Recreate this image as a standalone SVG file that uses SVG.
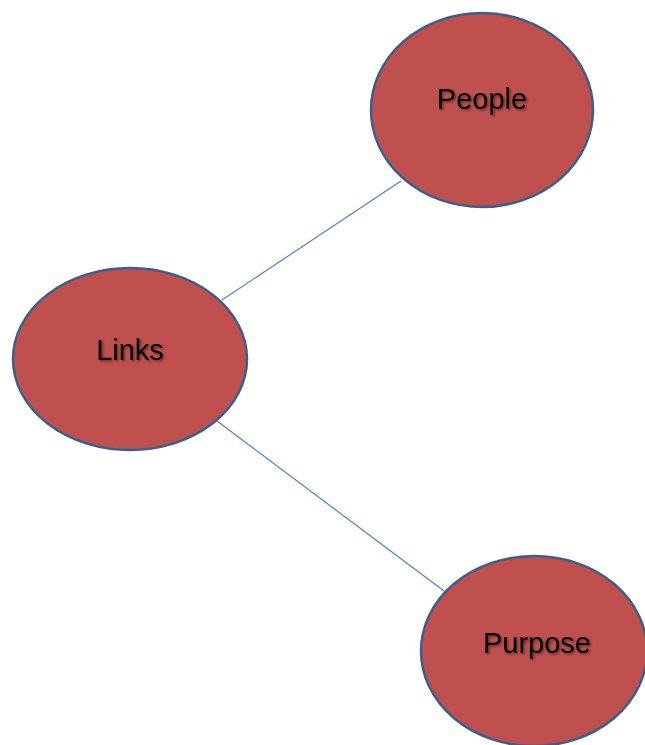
<svg xmlns="http://www.w3.org/2000/svg" width="645" height="745" viewBox="0 0 645 745">
<defs>
<style>
.node{fill:#C0504D;stroke:#3A5F8E;stroke-width:2.5}
.lbl{font-family:"Liberation Sans",Arial,sans-serif;font-size:29px;fill:#000;text-anchor:middle;filter:url(#sh)}
.edge{stroke:#4F81BD;stroke-width:1.2;fill:none}
</style>
<filter id="sh" x="-20%" y="-40%" width="140%" height="180%">
<feDropShadow dx="1.5" dy="1.5" stdDeviation="1" flood-color="#000" flood-opacity="0.45"/>
</filter>
</defs>
<rect width="645" height="745" fill="#fff"/>
<g id="connectors">
<line class="edge" x1="401" y1="181" x2="222" y2="300"/>
<line class="edge" x1="217" y1="421" x2="444" y2="591"/>
</g>
<g id="people">
<ellipse class="node" cx="482" cy="110" rx="111" ry="97"/>
<text class="lbl" x="482" y="109">People</text>
</g>
<g id="links">
<ellipse class="node" cx="130" cy="359" rx="117" ry="91"/>
<text class="lbl" x="130" y="360">Links</text>
</g>
<g id="purpose">
<ellipse class="node" cx="534" cy="651" rx="113" ry="95"/>
<text class="lbl" x="537" y="653">Purpose</text>
</g>
</svg>
